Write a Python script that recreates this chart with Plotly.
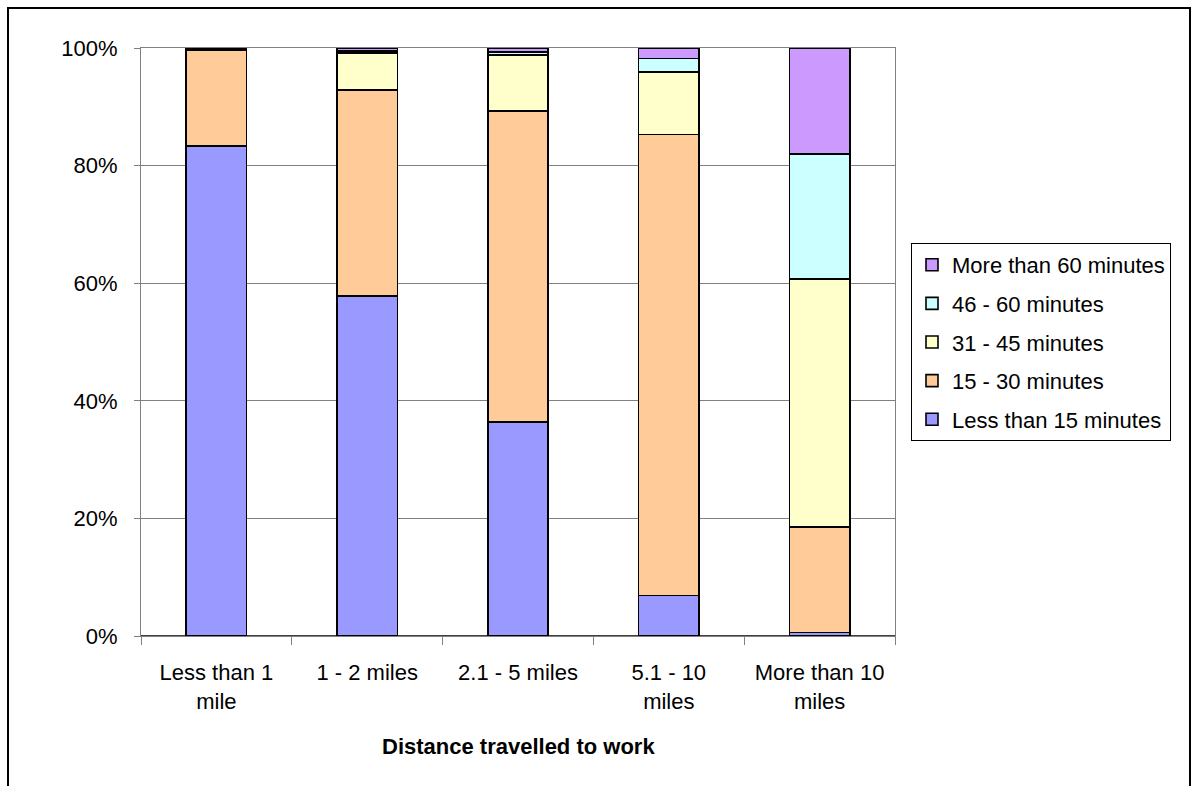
import plotly.graph_objects as go

# Commute time share (%) by distance travelled to work
categories = ["Less than 1<br>mile", "1 - 2 miles", "2.1 - 5 miles", "5.1 - 10<br>miles", "More than 10<br>miles"]

less_than_15 = [83.3, 57.8, 36.4, 6.9, 0.6]
min_15_30 = [16.4, 35.1, 52.9, 78.4, 17.9]
min_31_45 = [0.2, 6.3, 9.5, 10.6, 42.2]
min_46_60 = [0.05, 0.3, 0.5, 2.3, 21.3]
more_than_60 = [0.05, 0.5, 0.7, 1.8, 18.0]

series = [
    ("Less than 15 minutes", less_than_15, "#9999FF"),
    ("15 - 30 minutes", min_15_30, "#FFCC99"),
    ("31 - 45 minutes", min_31_45, "#FFFFCC"),
    ("46 - 60 minutes", min_46_60, "#CCFFFF"),
    ("More than 60 minutes", more_than_60, "#CC99FF"),
]

FONT = "Liberation Sans, Arial, sans-serif"

fig = go.Figure()
for i, (name, vals, color) in enumerate(series):
    fig.add_trace(go.Bar(
        x=categories, y=vals, name=name, legendgroup=name,
        legendrank=100 - i,
        marker=dict(color=color, line=dict(color="black", width=1.6)),
        width=0.4,
    ))

W, H = 1193, 786
L, R, T, B = 141, 298, 48, 150
pw, ph = W - L - R, H - T - B

def px_x(p):
    return (p - L) / pw

def px_y(p):
    return (H - B - p) / ph

fig.update_layout(
    width=W, height=H,
    margin=dict(l=L, r=R, t=T, b=B, autoexpand=False),
    barmode="stack",
    paper_bgcolor="white", plot_bgcolor="white",
    font=dict(family=FONT, size=22, color="black"),
    showlegend=True,
    legend=dict(
        x=px_x(911), y=px_y(243), xanchor="left", yanchor="top",
        traceorder="grouped", tracegroupgap=7,
        entrywidth=235, entrywidthmode="pixels",
        bordercolor="black", borderwidth=1,
        font=dict(family=FONT, size=22, color="black"),
        itemclick=False,
    ),
    bargap=0.6,
)

fig.update_yaxes(
    range=[0, 100], tickvals=[0, 20, 40, 60, 80, 100],
    ticktext=["0%", "20%", "40%", "60%", "80%", "100%"],
    showgrid=True, gridcolor="#808080", gridwidth=1,
    showline=True, linecolor="#808080", linewidth=1, mirror=True,
    ticks="outside", ticklen=6, tickcolor="#808080",
    ticklabelstandoff=12, zeroline=False,
    tickfont=dict(family=FONT, size=22),
)
fig.update_xaxes(
    tickson="boundaries", ticks="outside", ticklen=8, tickcolor="#808080",
    showline=True, linecolor="#808080", linewidth=1, mirror=True,
    showgrid=False, ticklabelstandoff=17,
    tickfont=dict(family=FONT, size=22),
)

# x-axis title
fig.add_annotation(
    x=0.5, y=px_y(746), xref="paper", yref="paper",
    text="<b>Distance travelled to work</b>", showarrow=False,
    font=dict(family=FONT, size=22), xanchor="center", yanchor="middle",
)

# baseline
fig.add_shape(type="line", xref="paper", yref="y", x0=0, x1=1, y0=0, y1=0,
              line=dict(color="black", width=1.5))

# chart border
fig.add_shape(type="rect", xref="paper", yref="paper",
              x0=px_x(8), x1=px_x(1190), y0=px_y(820), y1=px_y(8),
              line=dict(color="black", width=2), fillcolor="rgba(0,0,0,0)",
              layer="below")

fig.write_html("out.html")
